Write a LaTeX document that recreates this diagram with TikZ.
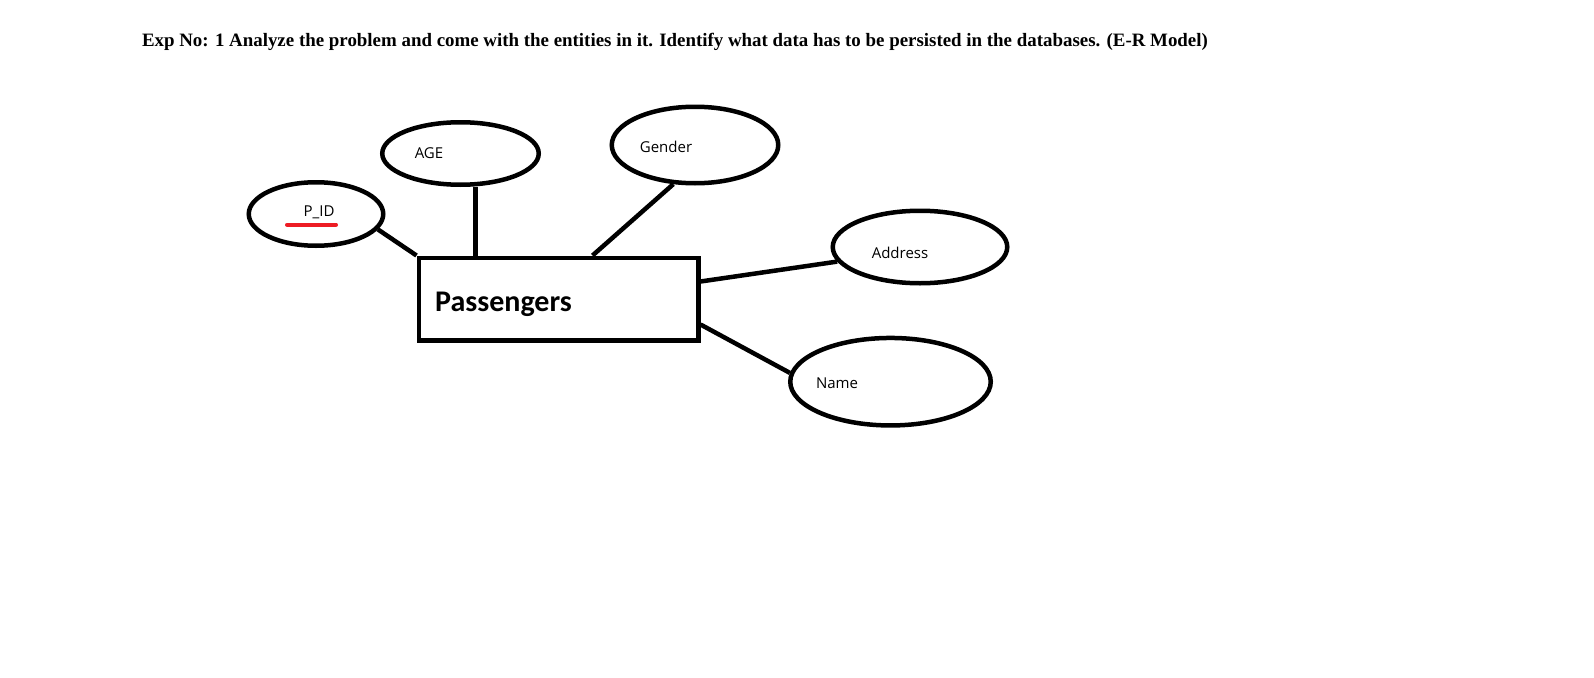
\documentclass[tikz,border=0pt]{standalone}
\usepackage{fontspec}
\setmainfont{Liberation Serif}
\newfontfamily\labelfont{Open Sans}
\newfontfamily\entityfont{Carlito}
\usetikzlibrary{shapes.geometric,positioning}
\definecolor{paintred}{RGB}{237,28,36}

\begin{document}
\begin{tikzpicture}[x=1pt,y=-1pt,
  attr/.style={draw,ellipse,line width=4.5pt,inner sep=0pt},
  lbl/.style={font=\labelfont\fontsize{15}{17}\selectfont,inner sep=0pt},
  link/.style={line width=4.5pt}]
\useasboundingbox (0,0) rectangle (1594,677);
\node[font=\bfseries\fontsize{18.9}{22}\selectfont,inner sep=0pt] (title) at (675,41.5)
  {Exp No: 1 Analyze the problem and come with the entities in it. Identify what data has to be persisted in the databases. (E-R Model)};
\node[draw,line width=4.5pt,minimum width=279.5pt,minimum height=82.5pt] (pass) at (558.5,299) {};
\node[font=\entityfont\bfseries\fontsize{30}{35}\selectfont,inner sep=0pt] (passtxt) at (503.5,304) {Passengers};
\node[attr,minimum width=134.5pt,minimum height=63.5pt] (pid) at (316,214) {};
\node[attr,minimum width=156.5pt,minimum height=62.5pt] (age) at (460.5,153.5) {};
\node[attr,minimum width=166.5pt,minimum height=76.5pt] (gender) at (695,145) {};
\node[attr,minimum width=174.5pt,minimum height=72.5pt] (address) at (920,247) {};
\node[attr,minimum width=200.5pt,minimum height=87.5pt] (name) at (890.5,381.7) {};
\node[lbl] (pidtxt) at (319,212.5) {P\_ID};
\node[lbl] (agetxt) at (429,153.5) {AGE};
\node[lbl] (gendertxt) at (666,146.4) {Gender};
\node[lbl] (addresstxt) at (900,253) {Address};
\node[lbl] (nametxt) at (837,383) {Name};
\draw[paintred,line width=4pt,line cap=round] (287,224.7) -- (336,224.7);
\coordinate (agefoot) at ([xshift=59pt]pass.north west);
\coordinate (genderfoot) at ([xshift=176pt]pass.north west);
\draw[link] (pid.-14) -- (pass.north west);
\draw[link] (agefoot) -- (agefoot |- age.south);
\draw[link] (genderfoot) -- (gender.241);
\draw[link] ([yshift=-26pt]pass.north east) -- (address.190);
\draw[link] ([yshift=18pt]pass.south east) -- (name.175);
\end{tikzpicture}
\end{document}
